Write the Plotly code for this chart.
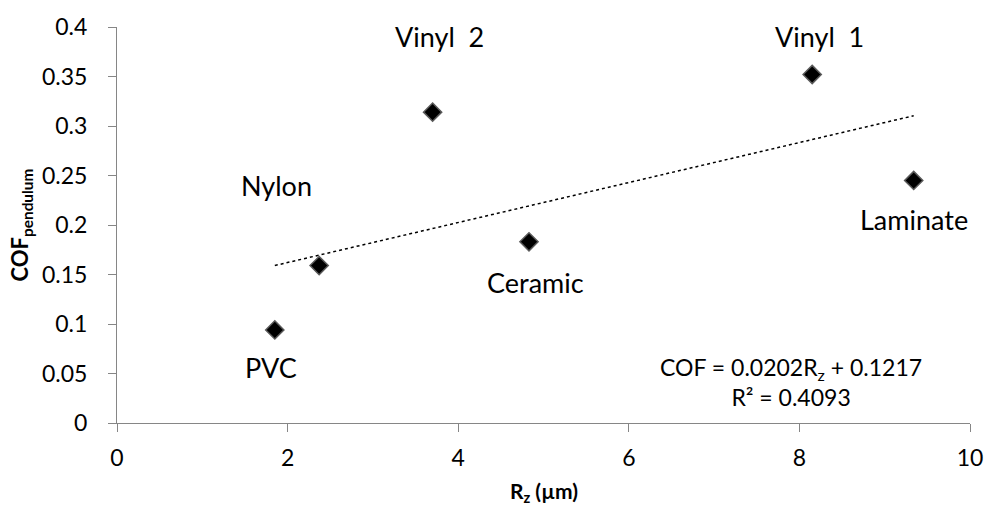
import plotly.graph_objects as go

# Floor surfaces: roughness Rz (µm) vs pendulum coefficient of friction
materials = ["PVC", "Nylon", "Vinyl  2", "Ceramic", "Vinyl  1", "Laminate"]
rz_um = [1.85, 2.37, 3.70, 4.83, 8.15, 9.34]
cof_pendulum = [0.094, 0.159, 0.314, 0.183, 0.352, 0.245]

# Linear trend reported on the chart
trend_slope = 0.0202
trend_intercept = 0.1217
trend_r2 = 0.4093

# Label offsets from each marker, in pixels (x right, y up)
label_dx = [-4, -43, 7, 6, 7, 0]
label_dy = [-38, 80, 76, -41, 38, -39]

FONT = "Lato, 'Open Sans', sans-serif"

trend_x = [min(rz_um), max(rz_um)]
trend_y = [trend_slope * v + trend_intercept for v in trend_x]

fig = go.Figure()
fig.add_trace(go.Scatter(
    x=trend_x, y=trend_y, mode="lines",
    line=dict(color="black", width=1.5, dash="dot"),
    hoverinfo="skip", showlegend=False,
))
fig.add_trace(go.Scatter(
    x=rz_um, y=cof_pendulum, mode="markers",
    marker=dict(symbol="diamond", size=14, color="black",
                line=dict(color="#5a5a5a", width=1.5)),
    showlegend=False,
))

for name, xv, yv, dx, dy in zip(materials, rz_um, cof_pendulum, label_dx, label_dy):
    fig.add_annotation(x=xv, y=yv, xref="x", yref="y", text=name,
                       showarrow=False, xshift=dx, yshift=dy,
                       xanchor="center", yanchor="middle",
                       font=dict(family=FONT, size=27, color="black"))

fig.add_annotation(
    x=0.79, y=0.104, xref="paper", yref="paper",
    xanchor="center", yanchor="middle",
    text=(f"COF = {trend_slope}R<sub>z</sub> + {trend_intercept}<br>"
          f"R² = {trend_r2}"),
    showarrow=False, align="center",
    font=dict(family=FONT, size=23, color="black"),
)

# Axis titles
fig.add_annotation(x=0.5, y=-0.174, xref="paper", yref="paper",
                   xanchor="center", yanchor="middle",
                   text="<b>R<sub>z</sub> (µm)</b>", showarrow=False,
                   font=dict(family=FONT, size=21, color="black"))
fig.add_annotation(x=-0.112, y=0.5, xref="paper", yref="paper",
                   xanchor="center", yanchor="middle",
                   text="<b>COF<sub>pendulum</sub></b>", showarrow=False,
                   textangle=-90,
                   font=dict(family=FONT, size=22, color="black"))

axis_common = dict(
    showgrid=False, zeroline=False, showline=True,
    linecolor="#868686", linewidth=1,
    ticks="outside", ticklen=8, tickcolor="#868686", tickwidth=1,
    tickfont=dict(family=FONT, size=23, color="black"),
    ticklabeloverflow="allow",
)

fig.update_xaxes(range=[0, 10], dtick=2, tick0=0, ticklabelstandoff=6,
                 **axis_common)
fig.update_yaxes(range=[0, 0.4], dtick=0.05, tick0=0, ticklabelstandoff=16,
                 **axis_common)

fig.update_layout(
    width=995, height=515,
    margin=dict(l=117, r=14, t=20, b=92),
    paper_bgcolor="white", plot_bgcolor="white",
    font=dict(family=FONT),
)

fig.write_html("out.html")
